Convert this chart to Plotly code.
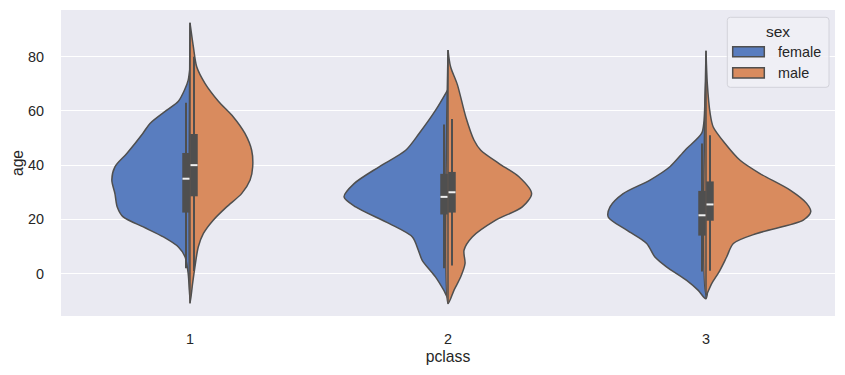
import plotly.graph_objects as go

# ---- data (age vs. half-violin width in category units) ----
pclass_labels = ["1", "2", "3"]
sexes = ["female", "male"]

# class 1
c1_female_age = [-9.5, 0, 6.1, 9.8, 13.5, 17.2, 20.9, 24.6, 29.5, 34.5, 39.4, 44.3, 51.7, 55.4, 60.3, 63.6, 68, 71.4, 76]
c1_female_w = [0, 0.007, 0.019, 0.045, 0.103, 0.181, 0.259, 0.282, 0.291, 0.303, 0.291, 0.245, 0.183, 0.155, 0.090, 0.045, 0.02, 0.007, 0]
c1_male_age = [-11, -3.7, 2.4, 9.8, 14.8, 19.7, 24.6, 29.5, 34.5, 39.4, 45.5, 51.7, 57.8, 63.6, 70.2, 76.3, 83.7, 92.5]
c1_male_w = [0, 0.010, 0.019, 0.032, 0.052, 0.090, 0.142, 0.200, 0.233, 0.243, 0.239, 0.213, 0.168, 0.110, 0.058, 0.026, 0.013, 0]

# class 2
c2_female_age = [-9, -6.2, -1.3, 4.9, 8.6, 13.5, 18.5, 24.6, 28.3, 33.2, 39.4, 45.5, 51.7, 60.3, 68]
c2_female_w = [0, 0.016, 0.048, 0.100, 0.115, 0.138, 0.229, 0.358, 0.403, 0.364, 0.267, 0.164, 0.112, 0.048, 0]
c2_male_age = [-11.1, -6.2, -1.3, 3.7, 8.6, 13.5, 19.7, 24.6, 29.5, 35.7, 40.6, 45.5, 49.2, 57.8, 69.8, 76.3, 82.5]
c2_male_w = [0, 0.023, 0.049, 0.066, 0.062, 0.094, 0.185, 0.288, 0.324, 0.275, 0.198, 0.127, 0.101, 0.069, 0.036, 0.010, 0]

# class 3
c3_female_age = [-9.3, -6.2, -2.5, 2.4, 6.1, 11.1, 16, 20.9, 24.6, 29.5, 34.5, 39.4, 45.5, 51.7, 56, 64, 73]
c3_female_w = [0, 0.030, 0.075, 0.152, 0.198, 0.230, 0.307, 0.379, 0.372, 0.321, 0.217, 0.140, 0.081, 0.017, 0.008, 0.004, 0]
c3_male_age = [-7.7, -3.7, 1.2, 6.1, 11.1, 14.8, 19.7, 22.8, 25.9, 30.8, 36.9, 41.8, 48, 54.1, 59.1, 70.2, 82.2]
c3_male_w = [0, 0.022, 0.054, 0.080, 0.106, 0.197, 0.377, 0.406, 0.390, 0.326, 0.209, 0.132, 0.074, 0.028, 0.016, 0.005, 0]

violin_age = {
    "female": [c1_female_age, c2_female_age, c3_female_age],
    "male": [c1_male_age, c2_male_age, c3_male_age],
}
violin_w = {
    "female": [c1_female_w, c2_female_w, c3_female_w],
    "male": [c1_male_w, c2_male_w, c3_male_w],
}

# box statistics per class: [class1, class2, class3]
female_q1 = [22.5, 21.8, 14.0]
female_med = [35.0, 28.3, 21.5]
female_q3 = [44.5, 36.8, 30.5]
female_lo = [2.0, 2.0, 0.75]
female_hi = [63.0, 55.0, 48.0]
male_q1 = [28.5, 22.5, 19.5]
male_med = [40.0, 30.0, 25.5]
male_q3 = [51.5, 37.5, 34.0]
male_lo = [0.92, 3.0, 1.0]
male_hi = [80.0, 57.0, 51.0]

box_stats = {
    "female": (female_q1, female_med, female_q3, female_lo, female_hi),
    "male": (male_q1, male_med, male_q3, male_lo, male_hi),
}

# ---- styling ----
fill_colors = {"female": "#597dbf", "male": "#d98b5e"}
line_color = "#4f4f4f"
text_color = "#262626"
side_sign = {"female": -1, "male": 1}
box_offset = 0.0155

# the page body has an 8px margin, so the figure is drawn 8px right/down
PAGE_OFF = 8
W, H = 845 - PAGE_OFF, 375 - PAGE_OFF
ML, MR, MT, MB = 61 - PAGE_OFF, 10, 10 - PAGE_OFF, 59
PW, PH = W - ML - MR, H - MT - MB


def px(xp):  # page pixel x -> paper
    return (xp - PAGE_OFF - ML) / PW


def py(yp):  # page pixel y -> paper
    return (H - MB - (yp - PAGE_OFF)) / PH


fig = go.Figure()

for sex in sexes:
    s = side_sign[sex]
    for i in range(3):
        ages = violin_age[sex][i]
        ws = violin_w[sex][i]
        xs = [i + s * w for w in ws]
        fig.add_trace(go.Scatter(
            x=xs + [i, i], y=ages + [ages[-1], ages[0]],
            mode="lines", fill="toself", fillcolor=fill_colors[sex],
            line=dict(color=line_color, width=1.5, shape="spline", smoothing=0.8),
            name=sex, showlegend=False, hoverinfo="skip",
        ))

# center lines
for i in range(3):
    lo = min(violin_age["female"][i][0], violin_age["male"][i][0])
    hi = max(violin_age["female"][i][-1], violin_age["male"][i][-1])
    fig.add_trace(go.Scatter(x=[i, i], y=[lo, hi], mode="lines",
                             line=dict(color=line_color, width=1.5),
                             showlegend=False, hoverinfo="skip"))

# inner boxes
for sex in sexes:
    s = side_sign[sex]
    q1, med, q3, lo, hi = box_stats[sex]
    for i in range(3):
        xc = i + s * box_offset
        fig.add_trace(go.Scatter(x=[xc, xc], y=[lo[i], hi[i]], mode="lines",
                                 line=dict(color=line_color, width=2),
                                 showlegend=False, hoverinfo="skip"))
        fig.add_trace(go.Scatter(x=[xc, xc], y=[q1[i], q3[i]], mode="lines",
                                 line=dict(color=line_color, width=7.5),
                                 showlegend=False, hoverinfo="skip"))
        fig.add_trace(go.Scatter(x=[xc], y=[med[i]], mode="markers",
                                 marker=dict(symbol="line-ew", size=5,
                                             line=dict(color="#f0f0f0", width=2)),
                                 showlegend=False, hoverinfo="skip"))

# ---- legend (drawn as frame, patches and text) ----
shapes = []
x0, x1, y0, y1, r = 727.3, 829, 17.3, 87.3, 3
path = (f"M {px(x0 + r)} {py(y0)} L {px(x1 - r)} {py(y0)} Q {px(x1)} {py(y0)} {px(x1)} {py(y0 + r)} "
        f"L {px(x1)} {py(y1 - r)} Q {px(x1)} {py(y1)} {px(x1 - r)} {py(y1)} "
        f"L {px(x0 + r)} {py(y1)} Q {px(x0)} {py(y1)} {px(x0)} {py(y1 - r)} "
        f"L {px(x0)} {py(y0 + r)} Q {px(x0)} {py(y0)} {px(x0 + r)} {py(y0)} Z")
shapes.append(dict(type="path", xref="paper", yref="paper", path=path,
                   fillcolor="rgba(240,240,246,0.85)", line=dict(color="#d2d2da", width=1)))
annotations = [dict(text="sex", xref="paper", yref="paper", x=px(777.5), y=py(31.5),
                    xanchor="center", yanchor="middle", showarrow=False,
                    font=dict(size=15.5, color=text_color))]
patch_rows = {"female": (46.7, 56.7), "male": (67.7, 78.0)}
for sex in sexes:
    t, b = patch_rows[sex]
    shapes.append(dict(type="rect", xref="paper", yref="paper",
                       x0=px(732.7), x1=px(764.3), y0=py(b), y1=py(t),
                       fillcolor=fill_colors[sex], line=dict(color=line_color, width=1.5)))
    annotations.append(dict(text=sex, xref="paper", yref="paper", x=px(775.5), y=py((t + b) / 2),
                            xanchor="left", yanchor="middle", showarrow=False,
                            font=dict(size=14.4, color=text_color)))

font_family = "Arial, 'Liberation Sans', sans-serif"
fig.update_layout(
    width=W, height=H,
    margin=dict(l=ML, r=MR, t=MT, b=MB),
    paper_bgcolor="white", plot_bgcolor="#eaeaf2",
    font=dict(family=font_family, size=14.4, color=text_color),
    xaxis=dict(range=[-0.5, 2.5], tickvals=[0, 1, 2], ticktext=pclass_labels,
               showgrid=False, zeroline=False, showline=False, automargin=False,
               ticks="outside", ticklen=10, tickcolor="rgba(0,0,0,0)",
               tickfont=dict(size=14.4, color=text_color),
               title=dict(text="pclass", font=dict(size=15.7, color=text_color), standoff=4)),
    yaxis=dict(range=[-15.66, 97.25], tickvals=[0, 20, 40, 60, 80],
               showgrid=True, gridcolor="white", gridwidth=1.2, zeroline=False, showline=False,
               automargin=False,
               ticks="outside", ticklen=13, tickcolor="rgba(0,0,0,0)",
               tickfont=dict(size=14.4, color=text_color),
               title=dict(text="age", font=dict(size=15.7, color=text_color), standoff=0)),
    shapes=shapes,
    annotations=annotations,
    showlegend=False,
)

fig.write_html("out.html")
